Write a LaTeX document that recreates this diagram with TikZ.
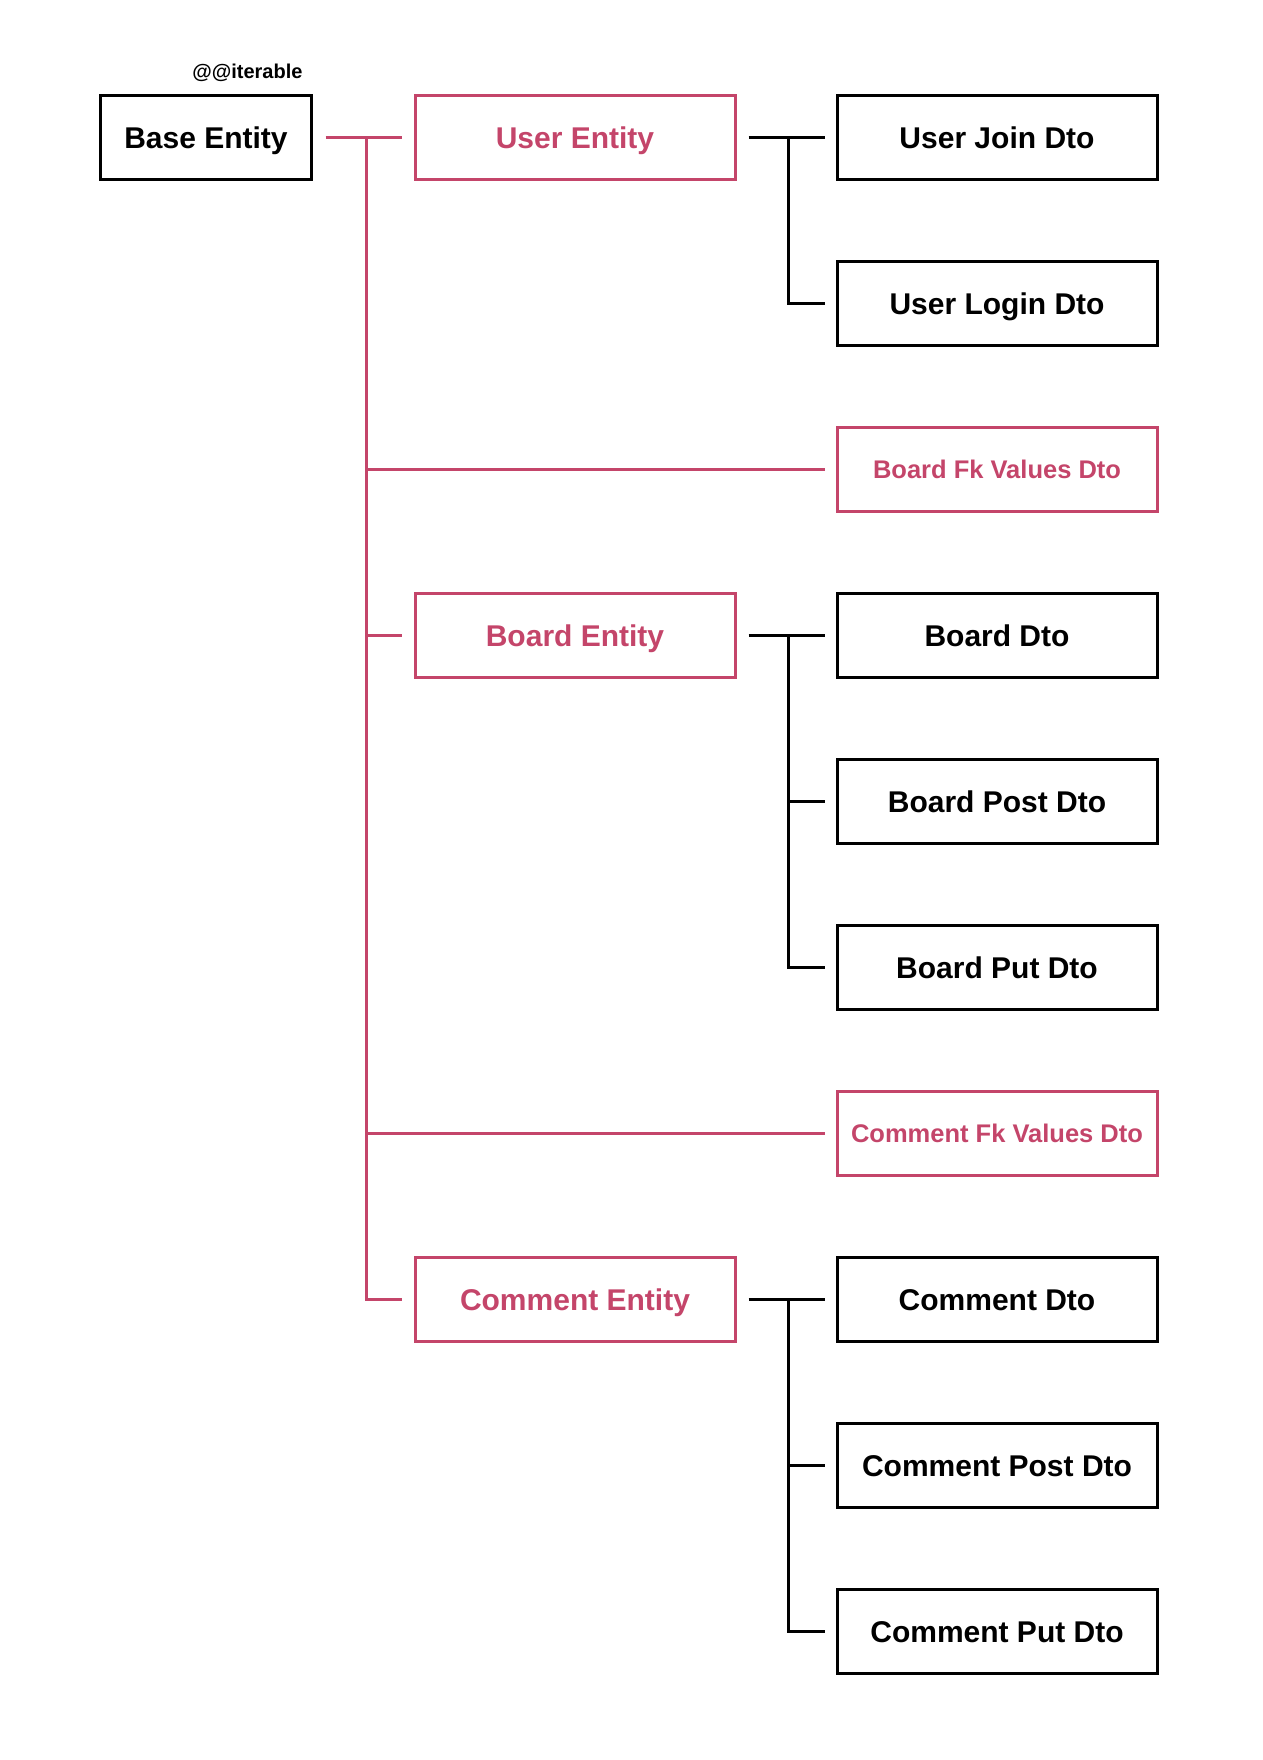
\documentclass[tikz,border=0pt]{standalone}
\usepackage{fontspec}
\setmainfont{Liberation Sans}
\definecolor{entred}{RGB}{196,69,106}

\begin{document}
\begin{tikzpicture}
  [x=1pt,y=-1pt,every node/.style={draw,rectangle,line width=3pt,minimum height=84pt,
   text height=22pt,text depth=0pt,font=\fontsize{30}{36}\selectfont\bfseries}]

  \tikzstyle{ent} = [entred,minimum width=320pt]
  \tikzstyle{dto} = [minimum width=320pt]
  \tikzstyle{fk} = [dto,entred,text height=18.5pt,font=\fontsize{25.5}{30}\selectfont\bfseries]
  \tikzstyle{redline} = [entred,line width=2.5pt]
  \tikzstyle{blkline} = [black,line width=2.5pt]

  \useasboundingbox (0,0) rectangle (1262,1760);

  \node[minimum width=211pt] (base) at (206,137.5) {Base Entity};
  \node[draw=none,minimum height=0pt,inner sep=0pt,anchor=base east,text height=,text depth=,
        font=\fontsize{20}{24}\selectfont\bfseries] (tag) at (304,79) {@@iterable};

  \node[ent] (user)  at (575,137.5)  {User Entity};
  \node[ent] (board) at (575,635.5)  {Board Entity};
  \node[ent] (cent)  at (575,1299.5) {Comment Entity};

  \node[dto] (ujoin)  at (997,137.5)  {User Join Dto};
  \node[dto] (ulogin) at (997,303.5)  {User Login Dto};
  \node[fk]  (bfk)    at (997,469.5)  {Board Fk Values Dto};
  \node[dto] (bdto)   at (997,635.5)  {Board Dto};
  \node[dto] (bpost)  at (997,801.5)  {Board Post Dto};
  \node[dto] (bput)   at (997,967.5)  {Board Put Dto};
  \node[fk]  (cfk)    at (997,1133.5) {Comment Fk Values Dto};
  \node[dto] (cdto)   at (997,1299.5) {Comment Dto};
  \node[dto] (cpost)  at (997,1465.5) {Comment Post Dto};
  \node[dto] (cput)   at (997,1631.5) {Comment Put Dto};

  % entity tree
  \coordinate (trunk) at ([xshift=53.5pt]base.east);
  \draw[redline] ([xshift=12.5pt]base.east) -- ([xshift=-12pt]user.west);
  \draw[redline] (trunk) |- ([xshift=-12pt]cent.west);
  \draw[redline] (trunk |- board.west) -- ([xshift=-12pt]board.west);
  \draw[redline] (trunk |- bfk.west) -- ([xshift=-11pt]bfk.west);
  \draw[redline] (trunk |- cfk.west) -- ([xshift=-11pt]cfk.west);

  % dto branches
  \coordinate (ux) at ([xshift=52pt]user.east);
  \draw[blkline] ([xshift=12pt]user.east) -- ([xshift=-11pt]ujoin.west);
  \draw[blkline] (ux) |- ([xshift=-11pt]ulogin.west);

  \coordinate (bx) at ([xshift=52pt]board.east);
  \draw[blkline] ([xshift=12pt]board.east) -- ([xshift=-11pt]bdto.west);
  \draw[blkline] (bx) |- ([xshift=-11pt]bput.west);
  \draw[blkline] (bx |- bpost.west) -- ([xshift=-11pt]bpost.west);

  \coordinate (cx) at ([xshift=52pt]cent.east);
  \draw[blkline] ([xshift=12pt]cent.east) -- ([xshift=-11pt]cdto.west);
  \draw[blkline] (cx) |- ([xshift=-11pt]cput.west);
  \draw[blkline] (cx |- cpost.west) -- ([xshift=-11pt]cpost.west);
\end{tikzpicture}
\end{document}
